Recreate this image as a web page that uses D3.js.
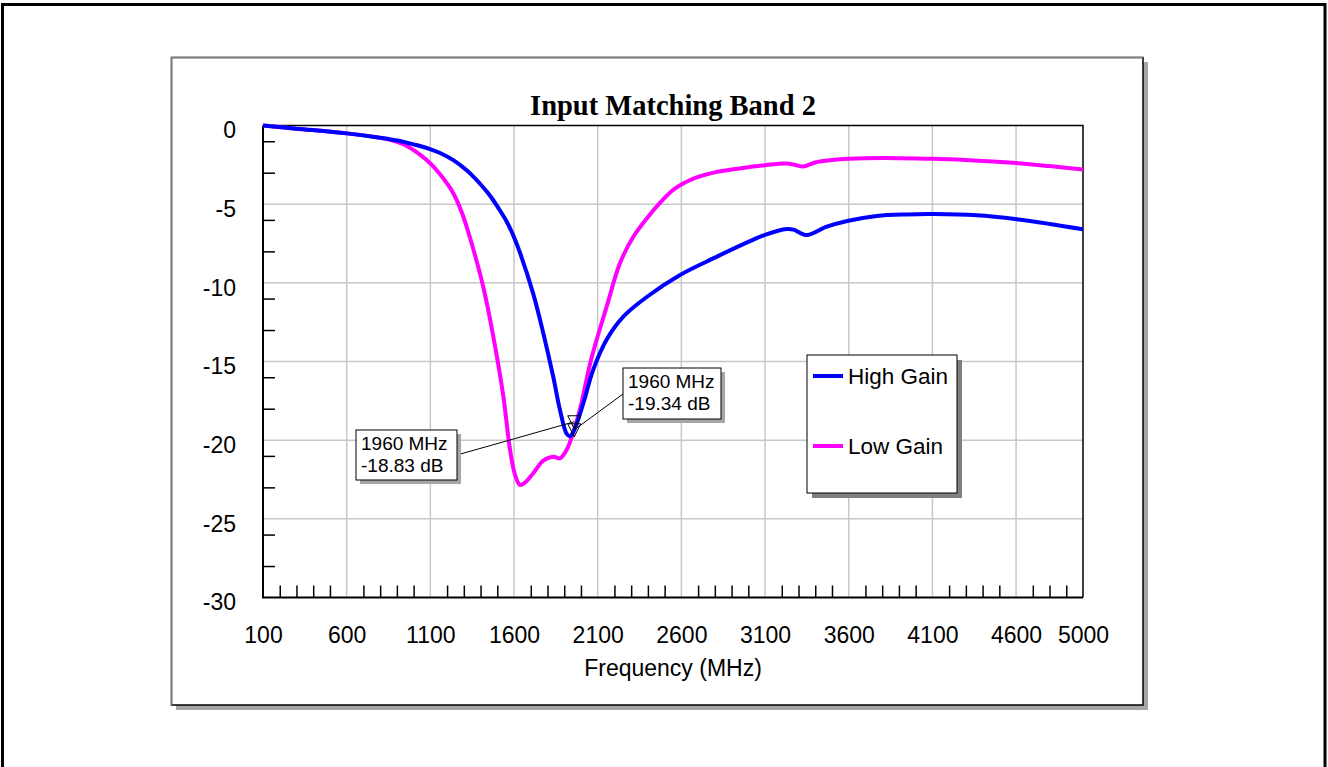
<!DOCTYPE html>
<html>
<head>
<meta charset="utf-8">
<script src="https://cdn.jsdelivr.net/npm/d3@7"></script>
<style>
html,body{margin:0;padding:0;background:#fff;}
svg{display:block;}
</style>
</head>
<body>
<svg id="chart" width="1328" height="767"></svg>
<script>
// ---------- data ----------
const chartTitle = "Input Matching Band 2";
const xAxisTitle = "Frequency (MHz)";
const seriesNames = ["High Gain", "Low Gain"];
const seriesColors = ["#0000ff", "#ff00ff"];

const highFreq = [100,300,600,800,937,1000,1098,1158,1237,1277,1317,1357,1397,1437,1476,1516,1556,1596,1636,1715,1775,1835,1875,1915,1935,1960,2014,2074,2154,2253,2393,2592,2800,3000,3100,3229,3270,3349,3469,3598,3767,3950,4106,4365,4604,4803,5000];
const highDb   = [0,-0.2,-0.5,-0.78,-1.03,-1.2,-1.5,-1.75,-2.2,-2.5,-2.85,-3.25,-3.7,-4.2,-4.75,-5.4,-6.1,-7.0,-8.1,-10.7,-13.2,-16.0,-18.1,-19.6,-19.75,-19.34,-17.66,-15.5,-13.6,-12.15,-10.9,-9.5,-8.4,-7.4,-6.95,-6.58,-6.62,-6.96,-6.43,-6.05,-5.75,-5.65,-5.63,-5.71,-5.96,-6.26,-6.6];

const lowFreq = [100,300,600,779,870,959,1078,1158,1237,1287,1347,1416,1476,1536,1576,1606,1636,1665,1715,1775,1835,1875,1915,1945,1995,2060,2154,2233,2313,2432,2500,2550,2600,2650,2700,2800,2900,3000,3100,3229,3270,3330,3400,3500,3600,3800,4100,4400,4600,4800,5000];
const lowDb   = [0,-0.2,-0.5,-0.75,-0.95,-1.3,-2.2,-3.1,-4.3,-5.5,-7.5,-10.25,-13.4,-17.2,-20.6,-22.2,-22.85,-22.7,-22.1,-21.3,-21.05,-21.15,-20.6,-19.8,-18.0,-14.9,-11.5,-8.76,-7.07,-5.4,-4.6,-4.1,-3.75,-3.48,-3.27,-2.98,-2.8,-2.65,-2.52,-2.42,-2.48,-2.6,-2.35,-2.2,-2.12,-2.06,-2.12,-2.25,-2.38,-2.58,-2.8];

const xTickLabels = [100,600,1100,1600,2100,2600,3100,3600,4100,4600,5000];
const xGrid = [600,1100,1600,2100,2600,3100,3600,4100,4600];
const xMinor = d3.range(200,5000,100).filter(v => (v-100)%500 !== 0);
const yTickLabels = [0,-5,-10,-15,-20,-25,-30];
const yGrid = [-5,-10,-15,-20,-25];
const yMinor = [-1,-3,-6,-8,-11,-13,-16,-18,-21,-23,-26,-28];

const markerFreq = [1960, 1960];
const markerDb = [-19.34, -18.83];
const markerLabels = [["1960 MHz","-19.34 dB"],["1960 MHz","-18.83 dB"]];

// ---------- layout ----------
const svg = d3.select("#chart");
const L = 263, R = 1083, T = 125.5, B = 597.5;
const x = d3.scaleLinear().domain([100,5000]).range([L,R]);
const y = d3.scaleLinear().domain([-30,0]).range([B,T]);
const sans = "'Liberation Sans', Arial, sans-serif";
const fmt = d => String(d);

// outer frame
svg.append("rect").attr("x",2.5).attr("y",4.5).attr("width",1322.5).attr("height",820)
  .attr("fill","none").attr("stroke","#000").attr("stroke-width",3);

// panel with shadow
svg.append("rect").attr("x",176).attr("y",62).attr("width",972).attr("height",648).attr("fill","#a6a6a6");
svg.append("rect").attr("x",171.5).attr("y",57.5).attr("width",971.5).attr("height",647.5)
  .attr("fill","#fff").attr("stroke","#000").attr("stroke-width",1.5);
svg.append("path").attr("d","M171.5,705 L171.5,57.5 L1143,57.5").attr("fill","none")
  .attr("stroke","#808080").attr("stroke-width",1.5);

// title
svg.append("text").attr("x",673).attr("y",115).attr("text-anchor","middle")
  .attr("font-family","'Liberation Serif', 'Times New Roman', serif").attr("font-weight","bold")
  .attr("font-size",28.5).text(chartTitle);

// grid
const g = svg.append("g");
g.selectAll(".vg").data(xGrid).enter().append("line")
  .attr("x1",d=>x(d)).attr("x2",d=>x(d)).attr("y1",T).attr("y2",B)
  .attr("stroke","#c8c8c8").attr("stroke-width",1.5);
g.selectAll(".hg").data(yGrid).enter().append("line")
  .attr("x1",L).attr("x2",R).attr("y1",d=>y(d)).attr("y2",d=>y(d))
  .attr("stroke","#c8c8c8").attr("stroke-width",1.5);

// minor ticks via axes
const xMinorAxis = d3.axisBottom(x).tickValues(xMinor).tickSize(-12).tickFormat("");
const gx = svg.append("g").attr("transform",`translate(0,${B})`).call(xMinorAxis);
gx.select(".domain").remove();
gx.selectAll("line").attr("stroke","#000").attr("stroke-width",1.5);

const yMinorAxis = d3.axisLeft(y).tickValues(yMinor).tickSize(-12).tickFormat("");
const gy = svg.append("g").attr("transform",`translate(${L},0)`).call(yMinorAxis);
gy.select(".domain").remove();
gy.selectAll("line").attr("stroke","#000").attr("stroke-width",1.5);

// tick labels via axes
const xLabAxis = d3.axisBottom(x).tickValues(xTickLabels).tickSize(0).tickFormat(fmt);
const gxl = svg.append("g").attr("transform",`translate(0,${B})`).call(xLabAxis);
gxl.select(".domain").remove();
gxl.selectAll("text").attr("y",45.5).attr("dy",0).attr("font-family",sans).attr("font-size",23).attr("fill","#000");

const yLabAxis = d3.axisLeft(y).tickValues(yTickLabels).tickSize(0).tickFormat(fmt);
const gyl = svg.append("g").attr("transform",`translate(${L},0)`).call(yLabAxis);
gyl.select(".domain").remove();
gyl.selectAll("text").attr("x",-27).attr("dy","0.53em").attr("font-family",sans).attr("font-size",23).attr("fill","#000");

// axis title
svg.append("text").attr("x",673).attr("y",676).attr("text-anchor","middle")
  .attr("font-family",sans).attr("font-size",23).text(xAxisTitle);

// plot frame
svg.append("path").attr("d",`M${L},${T} L${R},${T} L${R},${B}`).attr("fill","none")
  .attr("stroke","#000").attr("stroke-width",1.5);
svg.append("path").attr("d",`M${L},${T} L${L},${B} L${R},${B}`).attr("fill","none")
  .attr("stroke","#000").attr("stroke-width",2);

// series
svg.append("clipPath").attr("id","clip").append("rect")
  .attr("x",L).attr("y",T-3).attr("width",R-L).attr("height",B-T+3);
const line = d3.line().x(d=>x(d[0])).y(d=>y(d[1])).curve(d3.curveCatmullRom.alpha(0.5));
const highData = highFreq.map((f,i)=>[f,highDb[i]]);
const lowData = lowFreq.map((f,i)=>[f,lowDb[i]]);
const series = svg.append("g").attr("clip-path","url(#clip)");
series.append("path").datum(lowData).attr("d",line).attr("fill","none")
  .attr("stroke",seriesColors[1]).attr("stroke-width",4).attr("stroke-linejoin","round");
series.append("path").datum(highData).attr("d",line).attr("fill","none")
  .attr("stroke",seriesColors[0]).attr("stroke-width",4).attr("stroke-linejoin","round");

// markers
const boxes = [
  {bx:623, by:368, bw:98, bh:51, ax:623, ay:394},
  {bx:356, by:430, bw:101, bh:50, ax:457, ay:455}
];
markerFreq.forEach((f,i)=>{
  const mx = x(f), my = y(markerDb[i]);
  const b = boxes[i];
  svg.append("line").attr("x1",b.ax).attr("y1",b.ay).attr("x2",mx).attr("y2",my)
    .attr("stroke","#000").attr("stroke-width",1);
  svg.append("path").attr("d",`M${mx-6.5},${my-6} L${mx+6.5},${my-6} L${mx},${my+7} Z`)
    .attr("fill","none").attr("stroke","#000").attr("stroke-width",1);
  svg.append("rect").attr("x",b.bx+4).attr("y",b.by+4).attr("width",b.bw).attr("height",b.bh).attr("fill","#a6a6a6");
  svg.append("rect").attr("x",b.bx).attr("y",b.by).attr("width",b.bw).attr("height",b.bh)
    .attr("fill","#fff").attr("stroke","#000").attr("stroke-width",1);
  markerLabels[i].forEach((t,j)=>{
    svg.append("text").attr("x",b.bx+5).attr("y",b.by+20+j*21.5)
      .attr("font-family",sans).attr("font-size",19).text(t);
  });
});

// legend
const lg = {x:807, y:355, w:150, h:138};
svg.append("rect").attr("x",lg.x+5).attr("y",lg.y+5).attr("width",lg.w).attr("height",lg.h).attr("fill","#808080");
svg.append("rect").attr("x",lg.x).attr("y",lg.y).attr("width",lg.w).attr("height",lg.h)
  .attr("fill","#fff").attr("stroke","#000").attr("stroke-width",1);
seriesNames.forEach((n,i)=>{
  const ly = 376 + i*70;
  svg.append("line").attr("x1",813).attr("x2",843).attr("y1",ly).attr("y2",ly)
    .attr("stroke",seriesColors[i]).attr("stroke-width",4);
  svg.append("text").attr("x",848).attr("y",ly+8).attr("font-family",sans).attr("font-size",22.5).text(n);
});
</script>
</body>
</html>
